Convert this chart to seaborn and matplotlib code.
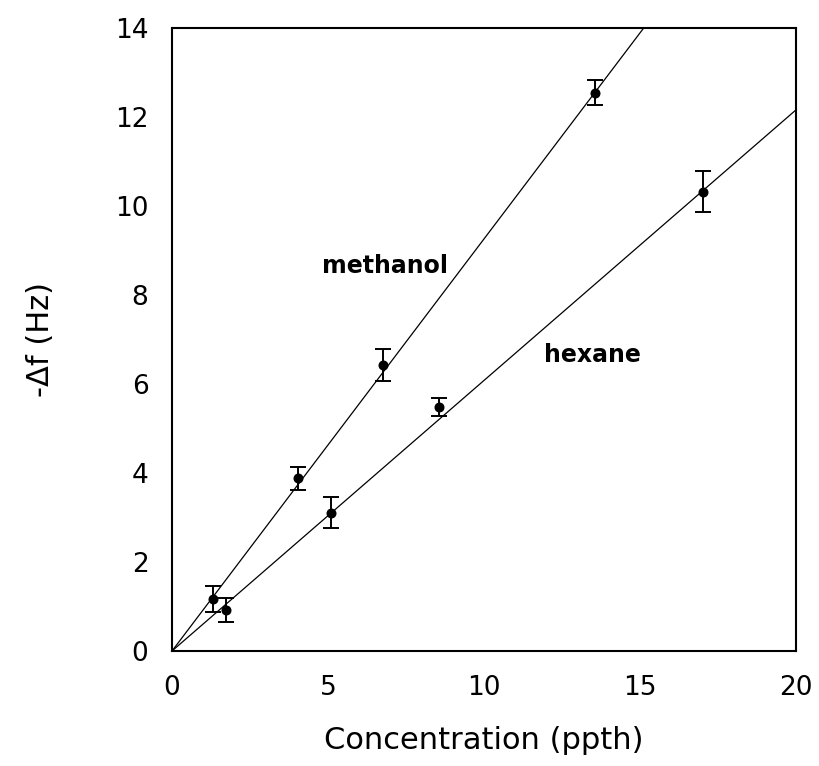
import matplotlib
matplotlib.use("Agg")
import matplotlib.pyplot as plt
import seaborn as sns
import numpy as np
import pandas as pd

# Data
meth_x = [1.30, 4.05, 6.77, 13.55]
meth_y = [1.17, 3.88, 6.43, 12.55]
meth_err = [0.29, 0.26, 0.36, 0.28]

hex_x = [1.72, 5.10, 8.56, 17.03]
hex_y = [0.93, 3.11, 5.48, 10.32]
hex_err = [0.27, 0.34, 0.21, 0.46]

meth_slope = 0.926
hex_slope = 0.608

x_ticks = [0, 5, 10, 15, 20]
y_ticks = [0, 2, 4, 6, 8, 10, 12, 14]

sns.set_style("white")
plt.rcParams['font.family'] = ['DejaVu Sans']
plt.rcParams['text.color'] = 'black'
plt.rcParams['axes.labelcolor'] = 'black'

fig = plt.figure(figsize=(8.19, 7.66), dpi=100)
ax = fig.add_axes([172/819, (766-651)/766, (796-172)/819, (651-28)/766])

pts = pd.DataFrame({
    "x": meth_x + hex_x,
    "y": meth_y + hex_y,
    "series": ["methanol"] * 4 + ["hexane"] * 4,
})
fit_x = [0, 20]
fits = pd.DataFrame({
    "x": fit_x + fit_x,
    "y": [meth_slope * v for v in fit_x] + [hex_slope * v for v in fit_x],
    "series": ["methanol"] * 2 + ["hexane"] * 2,
})

sns.lineplot(data=fits, x="x", y="y", units="series", estimator=None,
             color="black", linewidth=0.9, ax=ax, legend=False)
ax.errorbar(meth_x, meth_y, yerr=meth_err, fmt="none", ecolor="black",
            elinewidth=1.4, capsize=5.5, capthick=1.4)
ax.errorbar(hex_x, hex_y, yerr=hex_err, fmt="none", ecolor="black",
            elinewidth=1.4, capsize=5.5, capthick=1.4)
sns.scatterplot(data=pts, x="x", y="y", color="black", s=52,
                edgecolor="black", linewidth=0, ax=ax, legend=False, zorder=5)

ax.text(6.83, 8.66, "methanol", fontsize=17, fontweight="bold",
        ha="center", va="center")
ax.text(13.46, 6.66, "hexane", fontsize=17, fontweight="bold",
        ha="center", va="center")

ax.set_xlim(0, 20)
ax.set_ylim(0, 14)
ax.set_xticks(x_ticks)
ax.set_yticks(y_ticks)
ax.tick_params(direction="in", length=6, width=1.2, labelsize=19,
               colors="black")
ax.tick_params(axis="x", pad=17)
ax.tick_params(axis="y", pad=17)
for s in ax.spines.values():
    s.set_visible(True)
    s.set_color("black")
    s.set_linewidth(1.5)

ax.set_xlabel("Concentration (ppth)", fontsize=22)
ax.set_ylabel("-\u0394f (Hz)", fontsize=22)
ax.xaxis.set_label_coords(0.5, -0.121)
ax.yaxis.set_label_coords(-0.1875, 0.5)

fig.savefig("out.png", dpi=100)
